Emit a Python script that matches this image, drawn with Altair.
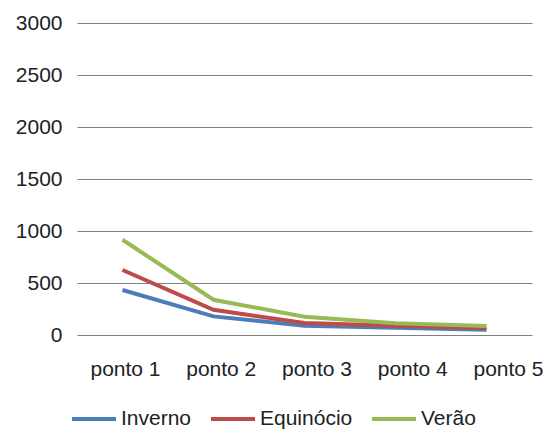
import altair as alt
import pandas as pd

categories = ["ponto 1", "ponto 2", "ponto 3", "ponto 4", "ponto 5"]
series = ["Inverno", "Equinócio", "Verão"]
inverno = [433, 179, 89, 70, 51]
equinocio = [625, 243, 115, 89, 67]
verao = [916, 339, 176, 112, 87]
colors = ["#4A7EBB", "#BE4B48", "#98B954"]
y_ticks = [0, 500, 1000, 1500, 2000, 2500, 3000]

rows = []
for name, vals in zip(series, [inverno, equinocio, verao]):
    for c, v in zip(categories, vals):
        rows.append({"ponto": c, "serie": name, "valor": v})
df = pd.DataFrame(rows)

FONT = "Liberation Sans"

chart = alt.Chart(df).mark_line(strokeWidth=4).encode(
    x=alt.X("ponto:N", sort=categories, title=None,
            scale=alt.Scale(type="point", padding=0.5),
            axis=alt.Axis(labelAngle=0, ticks=False, domain=False, grid=False,
                          labelFontSize=21, labelFont=FONT, labelColor="#222222",
                          labelPadding=23,
                          labelOffset={"expr": "2.5 + 19*datum.index"})),
    y=alt.Y("valor:Q", title=None,
            scale=alt.Scale(domain=[0, 3000], nice=False),
            axis=alt.Axis(values=y_ticks, ticks=False, domain=False, grid=True,
                          format="d",
                          gridColor="#808080", gridWidth=1.2,
                          labelFontSize=21, labelFont=FONT, labelColor="#222222",
                          labelPadding=15)),
    color=alt.Color("serie:N", sort=series,
                    scale=alt.Scale(domain=series, range=colors),
                    legend=alt.Legend(title=None, orient="none", direction="horizontal",
                                      legendX=-7, legendY=372,
                                      symbolType="stroke", symbolSize=1936,
                                      symbolStrokeWidth=4,
                                      labelFontSize=21, labelFont=FONT,
                                      labelColor="#222222", labelOffset=3,
                                      columnPadding=11)),
).properties(
    width=455, height=312,
    autosize=alt.AutoSizeParams(type="none"),
    padding={"left": 69, "top": 15, "right": 13, "bottom": 95},
).configure_view(stroke=None)

chart.save("out.html", embed_options={"renderer": "svg", "actions": False})
